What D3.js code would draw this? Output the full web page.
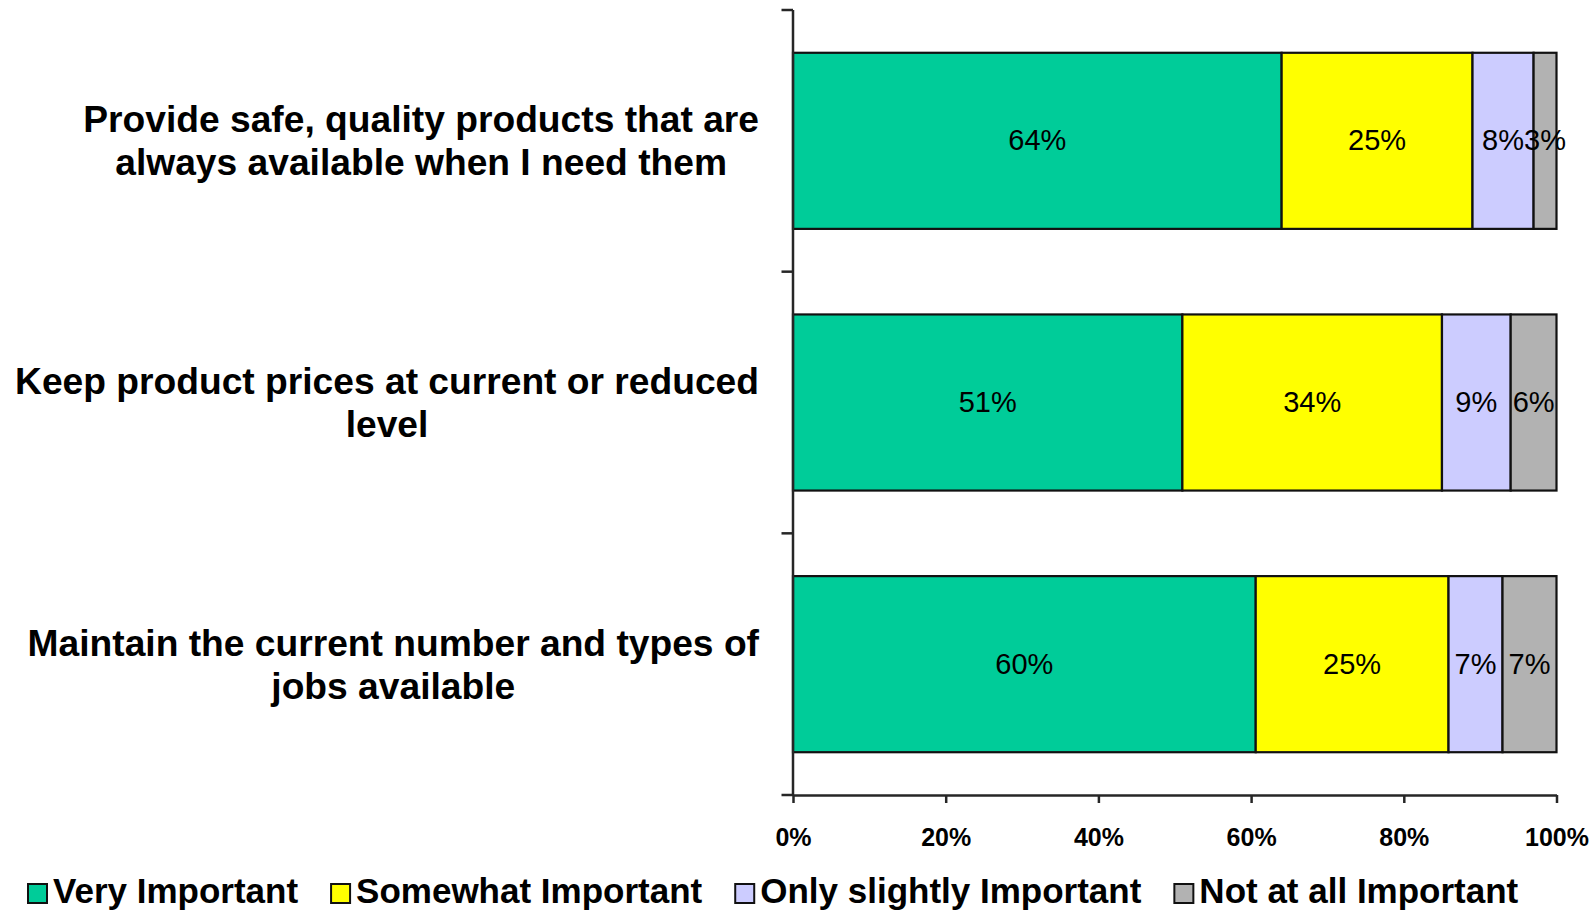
<!DOCTYPE html>
<html>
<head>
<meta charset="utf-8">
<script src="https://cdn.jsdelivr.net/npm/d3@7"></script>
<style>
  html, body { margin: 0; padding: 0; background: #ffffff; }
  svg { display: block; }
  text { font-family: "Liberation Sans", Arial, sans-serif; }
</style>
</head>
<body>
<svg id="chart" width="1595" height="913"></svg>
<script>
// ---- data ----
const categories = [
  ["Provide safe, quality products that are", "always available when I need them"],
  ["Keep product prices at current or reduced", "level"],
  ["Maintain the current number and types of", "jobs available"]
];
const seriesNames = ["Very Important", "Somewhat Important", "Only slightly Important", "Not at all Important"];
const veryImportant      = [64, 51, 60];
const somewhatImportant  = [25, 34, 25];
const slightlyImportant  = [8, 9, 7];
const notAtAllImportant  = [3, 6, 7];
const xTickValues = [0, 0.2, 0.4, 0.6, 0.8, 1.0];
const xTickLabels = ["0%", "20%", "40%", "60%", "80%", "100%"];
const colors = ["#00CC99", "#FFFF00", "#CCCCFF", "#B2B2B2"];

// ---- layout ----
const svg = d3.select("#chart");
const plotLeft = 793, plotRight = 1556.5, plotTop = 10, plotBottom = 795;
const x = d3.scaleLinear().domain([0, 1]).range([plotLeft, plotRight]);
const y = d3.scaleBand().domain(d3.range(categories.length))
  .range([plotTop, plotBottom]).paddingInner(0.327).paddingOuter(0.1635);
const step = y.step();

const seriesValues = [veryImportant, somewhatImportant, slightlyImportant, notAtAllImportant];
const rows = categories.map((c, i) => {
  const vals = seriesValues.map(s => s[i]);
  const total = d3.sum(vals);
  let cum = 0;
  return vals.map((v, k) => {
    const seg = { row: i, k, v, x0: cum / total, x1: (cum + v) / total };
    cum += v;
    return seg;
  });
});

// ---- bars ----
const gBars = svg.append("g");
rows.forEach(segs => {
  gBars.selectAll(null).data(segs).enter().append("rect")
    .attr("x", d => x(d.x0))
    .attr("y", d => y(d.row))
    .attr("width", d => x(d.x1) - x(d.x0))
    .attr("height", y.bandwidth())
    .attr("fill", d => colors[d.k])
    .attr("stroke", "#111")
    .attr("stroke-width", 2.2);
  gBars.selectAll(null).data(segs).enter().append("text")
    .attr("x", d => (x(d.x0) + x(d.x1)) / 2)
    .attr("y", d => y(d.row) + y.bandwidth() / 2)
    .attr("dy", "0.33em")
    .attr("text-anchor", "middle")
    .attr("font-size", 29)
    .attr("fill", "#000")
    .text(d => d.v + "%");
});

// ---- axes ----
const axisColor = "#262626";
// left vertical axis
svg.append("line").attr("x1", plotLeft).attr("x2", plotLeft)
  .attr("y1", plotTop).attr("y2", plotBottom)
  .attr("stroke", axisColor).attr("stroke-width", 2.5);
// category ticks (band boundaries)
const boundaries = d3.range(categories.length + 1).map(i => plotTop + i * step);
svg.selectAll(null).data(boundaries).enter().append("line")
  .attr("x1", plotLeft - 11.5).attr("x2", plotLeft)
  .attr("y1", d => d).attr("y2", d => d)
  .attr("stroke", axisColor).attr("stroke-width", 2.5);

// bottom axis via d3.axisBottom
const xAxis = d3.axisBottom(x).tickValues(xTickValues)
  .tickFormat((d, i) => xTickLabels[i]).tickSize(8).tickSizeOuter(0).tickPadding(15);
const gx = svg.append("g").attr("transform", `translate(0,${plotBottom})`).call(xAxis);
gx.select(".domain").attr("stroke", axisColor).attr("stroke-width", 2.5);
gx.selectAll(".tick line").attr("stroke", axisColor).attr("stroke-width", 2.5);
gx.selectAll(".tick text")
  .attr("font-family", "'Liberation Sans', Arial, sans-serif")
  .attr("font-size", 25).attr("font-weight", "bold").attr("fill", "#000")
  .attr("dy", null).attr("y", 51);

// ---- category labels ----
const labelRight = 759;
categories.forEach((lines, i) => {
  const cy = y(i) + y.bandwidth() / 2;
  const g = svg.append("g");
  const texts = lines.map((t, j) => g.append("text")
    .attr("font-size", 37.2).attr("font-weight", "bold").attr("fill", "#000")
    .attr("text-anchor", "middle")
    .attr("y", cy + (j - (lines.length - 1) / 2) * 43)
    .attr("dy", "0.35em")
    .text(t));
  const maxW = d3.max(texts, t => t.node().getComputedTextLength());
  texts.forEach(t => t.attr("x", labelRight - maxW / 2));
});

// ---- legend ----
const legend = svg.append("g");
let lx = 28;
const sqSize = 19, legendBaseline = 903;
seriesNames.forEach((name, k) => {
  legend.append("rect")
    .attr("x", lx).attr("y", legendBaseline - sqSize)
    .attr("width", sqSize).attr("height", sqSize)
    .attr("fill", colors[k]).attr("stroke", "#111").attr("stroke-width", 2);
  const t = legend.append("text")
    .attr("x", lx + 25).attr("y", legendBaseline)
    .attr("font-size", 35).attr("font-weight", "bold").attr("fill", "#000")
    .text(name);
  lx = lx + 25 + t.node().getComputedTextLength() + 33;
});
</script>
</body>
</html>
